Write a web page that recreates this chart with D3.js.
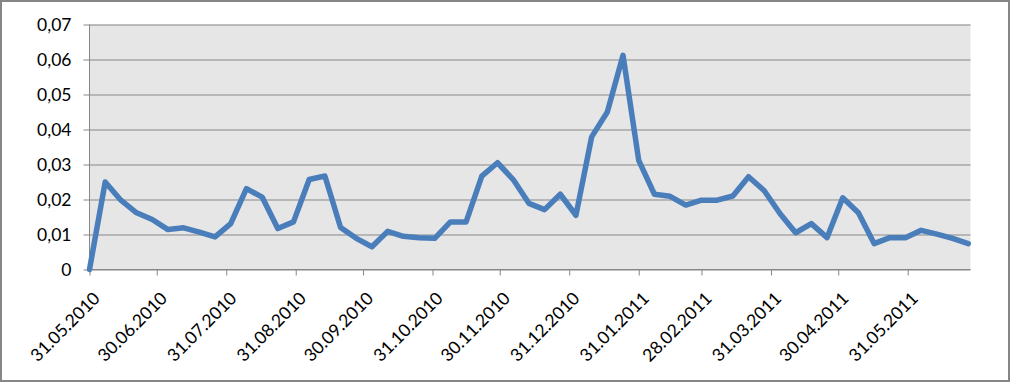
<!DOCTYPE html>
<html>
<head>
<meta charset="utf-8">
<script src="https://cdn.jsdelivr.net/npm/d3@7"></script>
<style>
  html, body { margin: 0; padding: 0; background: #fff; }
  svg { display: block; }
  text { font-family: Lato, "Open Sans", sans-serif; }
</style>
</head>
<body>
<svg id="chart" width="1011" height="383"></svg>
<script>
// ---- data ----
const dates = [
  "31.05.2010","07.06.2010","14.06.2010","21.06.2010","28.06.2010","05.07.2010","12.07.2010","19.07.2010","26.07.2010",
  "02.08.2010","09.08.2010","16.08.2010","23.08.2010","30.08.2010","06.09.2010","13.09.2010","20.09.2010","27.09.2010",
  "04.10.2010","11.10.2010","18.10.2010","25.10.2010","01.11.2010","08.11.2010","15.11.2010","22.11.2010","29.11.2010",
  "06.12.2010","13.12.2010","20.12.2010","27.12.2010","03.01.2011","10.01.2011","17.01.2011","24.01.2011","31.01.2011",
  "07.02.2011","14.02.2011","21.02.2011","28.02.2011","07.03.2011","14.03.2011","21.03.2011","28.03.2011","04.04.2011",
  "11.04.2011","18.04.2011","25.04.2011","02.05.2011","09.05.2011","16.05.2011","23.05.2011","30.05.2011","06.06.2011",
  "13.06.2011","20.06.2011","27.06.2011"
];
const values = [
  0.0000, 0.0250, 0.0198, 0.0162, 0.0143, 0.0114, 0.0119, 0.0107, 0.0093,
  0.0131, 0.0231, 0.0207, 0.0117, 0.0136, 0.0257, 0.0267, 0.0120, 0.0089,
  0.0065, 0.0109, 0.0095, 0.0091, 0.0089, 0.0136, 0.0136, 0.0267, 0.0305,
  0.0257, 0.0189, 0.0171, 0.0215, 0.0155, 0.0379, 0.0450, 0.0612, 0.0312,
  0.0215, 0.0209, 0.0184, 0.0198, 0.0198, 0.0210, 0.0265, 0.0225, 0.0160,
  0.0105, 0.0131, 0.0091, 0.0205, 0.0162, 0.0074, 0.0091, 0.0091, 0.0112,
  0.0101, 0.0089, 0.0074
];
const xTickLabels = [
  "31.05.2010","30.06.2010","31.07.2010","31.08.2010","30.09.2010","31.10.2010","30.11.2010",
  "31.12.2010","31.01.2011","28.02.2011","31.03.2011","30.04.2011","31.05.2011"
];
const xDomain = ["31.05.2010", "28.06.2011"];
const yTicks = [0, 0.01, 0.02, 0.03, 0.04, 0.05, 0.06, 0.07];
const yTickLabels = ["0", "0,01", "0,02", "0,03", "0,04", "0,05", "0,06", "0,07"];
const yDomain = [0, 0.07];

// ---- layout ----
const parse = d3.utcParse("%d.%m.%Y");
const plot = { left: 89.5, right: 970.5, top: 24.5, bottom: 269.5 };
const svg = d3.select("#chart");

// outer frame
svg.append("rect")
  .attr("x", 1).attr("y", 1).attr("width", 1008).attr("height", 380)
  .attr("fill", "#fff").attr("stroke", "#868686").attr("stroke-width", 2);

const x = d3.scaleUtc().domain(xDomain.map(parse)).range([plot.left, plot.right]);
const y = d3.scaleLinear().domain(yDomain).range([plot.bottom, plot.top]);

// plot background
svg.append("rect")
  .attr("x", plot.left).attr("y", plot.top)
  .attr("width", plot.right - plot.left).attr("height", plot.bottom - plot.top)
  .attr("fill", "#e6e6e6");

// gridlines
const grid = svg.append("g")
  .attr("transform", `translate(${plot.left},0)`)
  .call(d3.axisRight(y).tickValues(yTicks).tickSize(plot.right - plot.left).tickFormat(""));
grid.select(".domain").remove();
grid.selectAll("line").attr("stroke", "#878787").attr("stroke-width", 1);

// y axis
const yAxis = svg.append("g")
  .attr("transform", `translate(${plot.left},0)`)
  .call(d3.axisLeft(y).tickValues(yTicks).tickSize(6).tickPadding(12)
    .tickFormat((d, i) => yTickLabels[i]));
yAxis.select(".domain").attr("stroke", "#878787").attr("d", `M0,${plot.top}V${plot.bottom}`);
yAxis.selectAll("line").attr("stroke", "#878787");
yAxis.selectAll("text").attr("fill", "#000").style("font-size", "17.5px").style("font-family", "Lato, sans-serif");

// x axis
const xTickDates = xTickLabels.map(parse);
const xAxis = svg.append("g")
  .attr("transform", `translate(0,${plot.bottom})`)
  .call(d3.axisBottom(x).tickValues(xTickDates).tickSize(6)
    .tickFormat((d, i) => xTickLabels[i]));
xAxis.select(".domain").attr("stroke", "#878787").attr("d", `M${plot.left},0H${plot.right}`);
xAxis.selectAll("line").attr("stroke", "#878787");
xAxis.selectAll("text")
  .attr("fill", "#000")
  .style("font-size", "17.5px").style("font-family", "Lato, sans-serif")
  .attr("text-anchor", "end")
  .attr("x", null).attr("y", null).attr("dy", null)
  .attr("transform", "translate(11,30) rotate(-45)");

// line
const data = dates.map((d, i) => ({ date: parse(d), value: values[i] }));
const line = d3.line().x(d => x(d.date)).y(d => y(d.value));
svg.append("path")
  .datum(data)
  .attr("d", line)
  .attr("fill", "none")
  .attr("stroke", "#4a7ebb")
  .attr("stroke-width", 5.5)
  .attr("stroke-linejoin", "round")
  .attr("stroke-linecap", "round");
</script>
</body>
</html>
